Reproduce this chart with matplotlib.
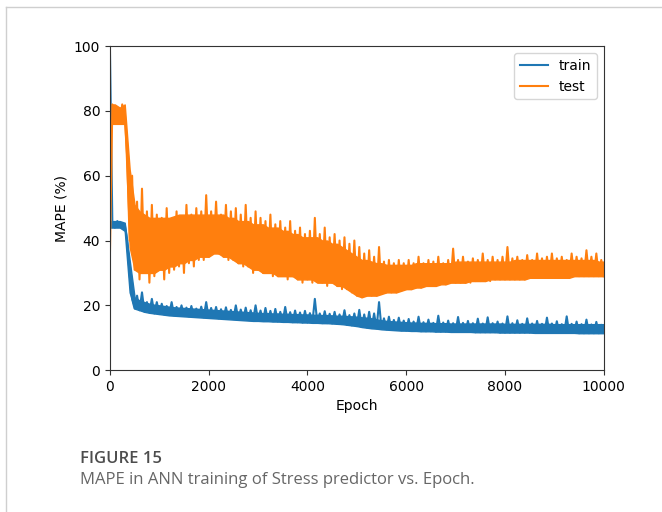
import matplotlib
matplotlib.use('Agg')
import matplotlib.pyplot as plt
from matplotlib.lines import Line2D

# epochs sampled every 50 (spiky trace)
epochs = list(range(0, 10001, 50))
# epochs sampled every 100 (dense noise band)
band_epochs = list(range(0, 10001, 100))

train_mape = [
    100, 45, 44, 46, 45, 44, 45, 40, 30, 22, 19, 23, 18.5, 24, 18, 21, 17.8, 22, 17.5, 21,
    17.3, 20.5, 17.2, 19.8, 17, 21, 16.9, 19.5, 16.8, 20, 16.7, 19.3, 16.6, 19.8, 16.5, 19, 16.4, 19.6, 16.3, 21,
    16.2, 19.2, 16.1, 19.5, 16, 18.8, 16, 19.4, 15.9, 18.6, 15.8, 20, 15.7, 18.7, 15.6, 19.3, 15.5, 18.5, 15.4, 20,
    15.3, 18.4, 15.2, 19.2, 15.2, 18.3, 15.1, 18.9, 15, 18, 15, 19.5, 14.9, 17.9, 14.8, 18.4, 14.8, 17.8, 14.7, 18.3,
    14.7, 17.6, 14.6, 22, 14.6, 17.5, 14.5, 18.2, 14.5, 17.4, 14.4, 18, 14.3, 17.2, 14.2, 18.5, 14, 17, 13.8, 17.5,
    13.6, 18.6, 13.4, 17.2, 13.2, 18, 13, 17.5, 12.9, 21, 12.8, 16, 12.6, 16.5, 12.5, 15.5, 12.4, 16.2, 12.3, 15.3,
    12.2, 15.8, 12.1, 15, 12.1, 16.5, 12, 14.8, 12, 15.6, 12, 14.6, 11.9, 16.8, 11.9, 14.7, 11.9, 15.3, 11.8, 14.5,
    11.8, 16.4, 11.8, 14.6, 11.8, 15.2, 11.8, 14.5, 11.7, 15.9, 11.7, 14.4, 11.7, 16.3, 11.7, 14.5, 11.7, 15, 11.6, 14.4,
    11.6, 16.6, 11.6, 14.5, 11.6, 15.4, 11.6, 14.3, 11.6, 16, 11.6, 14.4, 11.5, 15.2, 11.5, 14.3, 11.5, 16.2, 11.5, 14.4,
    11.5, 15.1, 11.5, 14.2, 11.5, 16.6, 11.5, 14.3, 11.5, 15, 11.4, 14.2, 11.4, 15.6, 11.4, 14.1, 11.4, 14.9, 11.4, 14,
    12.5,
]

test_mape = [
    35, 82, 77, 81, 76, 82, 78, 66, 40, 60, 31, 52, 28, 56, 30, 49, 27, 51, 29, 48,
    31, 47, 28, 50, 30, 46, 31, 49, 32, 47, 30, 51, 33, 48, 32, 50, 34, 49, 34, 54,
    35, 49, 36, 52, 36, 48, 35, 51, 34, 49, 34, 50, 33, 48, 32, 51, 32, 47, 30, 49,
    31, 47, 30, 46, 31, 48, 29, 45, 29, 46, 30, 44, 28, 46, 29, 43, 28, 44, 27, 42,
    28, 43, 27, 47, 28, 42, 27, 44, 26, 41, 27, 42, 26, 40, 25, 41, 25, 39, 24, 40,
    23, 38, 22.5, 36, 23, 37, 23, 35, 23, 38, 23.5, 33.5, 24, 34, 24, 33, 24, 34, 24.5, 33,
    25, 34, 25, 33, 25.5, 35, 25.5, 33, 26, 34, 26, 33.5, 26, 35, 26.5, 33, 26.5, 34, 27, 37.5,
    27, 34, 27, 35, 27, 33.5, 27, 34.5, 27.5, 34, 27.5, 36, 27.5, 34, 27.5, 35, 28, 34, 28, 35,
    28, 38, 28, 34.5, 28, 35, 28, 34, 28, 35.5, 28.5, 34, 28.5, 36, 28.5, 34.5, 28.5, 35, 28.5, 36,
    28.5, 34.5, 28.5, 35, 28.5, 34, 28.5, 36, 29, 35, 29, 34.5, 29, 37, 29, 35, 29, 36, 29, 34,
    29,
]

# lower / upper edges of the dense noise band
train_low = [
    44, 44, 44, 43, 24, 19, 18.5, 18, 17.7, 17.5,
    17.3, 17.1, 16.9, 16.8, 16.7, 16.6, 16.5, 16.4, 16.3, 16.2,
    16.1, 16, 15.9, 15.8, 15.7, 15.6, 15.5, 15.4, 15.3, 15.2,
    15.2, 15.1, 15.1, 15, 15, 14.9, 14.9, 14.8, 14.8, 14.7,
    14.7, 14.6, 14.6, 14.5, 14.5, 14.4, 14.3, 14.2, 14, 13.8,
    13.6, 13.3, 13.1, 12.9, 12.8, 12.6, 12.5, 12.4, 12.3, 12.2,
    12.2, 12.1, 12.1, 12, 12, 12, 11.9, 11.9, 11.9, 11.8,
    11.8, 11.8, 11.8, 11.8, 11.7, 11.7, 11.7, 11.7, 11.7, 11.6,
    11.6, 11.6, 11.6, 11.6, 11.6, 11.6, 11.5, 11.5, 11.5, 11.5,
    11.5, 11.5, 11.5, 11.5, 11.5, 11.4, 11.4, 11.4, 11.4, 11.4,
    11.4,
]
train_high = [
    46, 46, 46, 45.5, 34, 22.5, 21.5, 21, 20.5, 20.2,
    20, 19.8, 19.6, 19.4, 19.3, 19.2, 19.1, 19, 18.9, 18.8,
    18.7, 18.6, 18.5, 18.4, 18.3, 18.2, 18.1, 18, 17.9, 17.8,
    17.7, 17.6, 17.6, 17.5, 17.5, 17.4, 17.4, 17.3, 17.3, 17.2,
    17.2, 17.1, 17.1, 17, 17, 16.9, 16.8, 16.8, 16.7, 16.6,
    16.5, 16.3, 16.2, 16, 15.7, 15.4, 15.2, 15.1, 15, 14.9,
    14.8, 14.7, 14.7, 14.6, 14.6, 14.6, 14.5, 14.5, 14.5, 14.4,
    14.4, 14.4, 14.4, 14.4, 14.4, 14.4, 14.4, 14.4, 14.4, 14.4,
    14.3, 14.3, 14.3, 14.3, 14.3, 14.3, 14.3, 14.3, 14.3, 14.3,
    14.2, 14.2, 14.2, 14.2, 14.2, 14.2, 14.2, 14.2, 14.2, 14.2,
    14.2,
]
test_low = [
    76, 76, 76, 76, 38, 31, 30, 30, 30, 30,
    31, 31, 32, 32, 33, 33, 34, 34, 35, 35,
    35, 36, 36, 35, 35, 34, 33, 33, 32, 31,
    31, 30, 30, 30, 29, 29, 29, 29, 28, 28,
    28, 28, 27, 27, 27, 27, 26, 26, 25, 24,
    23, 22.5, 23, 23, 23, 23.5, 24, 24, 24, 24.5,
    25, 25, 25.5, 25.5, 26, 26, 26, 26.5, 26.5, 27,
    27, 27, 27, 27.5, 27.5, 27.5, 27.5, 28, 28, 28,
    28, 28, 28, 28, 28, 28.5, 28.5, 28.5, 28.5, 28.5,
    28.5, 28.5, 28.5, 28.5, 29, 29, 29, 29, 29, 29,
    29,
]
test_high = [
    82, 82, 81, 82, 62, 51, 49, 48, 47, 47,
    47, 47, 47, 47.5, 48, 48, 48, 48, 48, 48,
    48, 48, 48, 48, 47, 47, 46, 46, 46, 45,
    45, 45, 44, 44, 44, 43, 43, 42, 42, 41,
    41, 41, 41, 40, 40, 39, 39, 38, 37, 36,
    35, 34, 34, 33.5, 33, 33, 32.5, 32.5, 32.5, 32.5,
    32.5, 32.5, 33, 33, 33, 33, 33, 33, 33, 33,
    33.5, 33.5, 33.5, 33.5, 33.5, 33.5, 33.5, 33.5, 33.5, 33.5,
    33.5, 33.5, 34, 34, 34, 34, 34, 34, 34, 34,
    34, 34, 34, 34, 34, 34, 34, 34, 34, 33.5,
    33.5,
]

train_color = '#1f77b4'
test_color = '#ff7f0e'

fig = plt.figure(figsize=(6.62, 5.12), dpi=100)
ax = fig.add_axes([0.166, 0.277, 0.746, 0.633])

ax.fill_between(band_epochs, train_low, train_high, color=train_color, linewidth=1)
ax.plot(epochs, train_mape, color=train_color, linewidth=1.5, label='train')
ax.fill_between(band_epochs, test_low, test_high, color=test_color, linewidth=1)
ax.plot(epochs, test_mape, color=test_color, linewidth=1.5, label='test')

ax.set_xlim(0, 10000)
ax.set_ylim(0, 100)
ax.set_xticks([0, 2000, 4000, 6000, 8000, 10000])
ax.set_yticks([0, 20, 40, 60, 80, 100])
ax.tick_params(labelsize=10, color='#333333')
for s in ax.spines.values():
    s.set_color('#333333')
ax.set_xlabel('Epoch', fontsize=10)
ax.set_ylabel('MAPE (%)', fontsize=10)
ax.legend(loc='upper right', fontsize=10)

# page frame lines
fig.add_artist(Line2D([6 / 662, 6 / 662], [0, 1 - 7 / 512], transform=fig.transFigure,
                      color='#cfcfcf', linewidth=1))
fig.add_artist(Line2D([6 / 662, 1], [1 - 7 / 512, 1 - 7 / 512], transform=fig.transFigure,
                      color='#cfcfcf', linewidth=1))

# caption
fig.text(80 / 662, 1 - 459 / 512, 'FIGURE 15', fontsize=12, fontweight='semibold',
         family='Open Sans', color='#4d4d4d', va='center', ha='left')
fig.text(80 / 662, 1 - 480 / 512, 'MAPE in ANN training of Stress predictor vs. Epoch.',
         fontsize=12, family='Open Sans', color='#666666', va='center', ha='left')

plt.savefig('out.png', dpi=100)
